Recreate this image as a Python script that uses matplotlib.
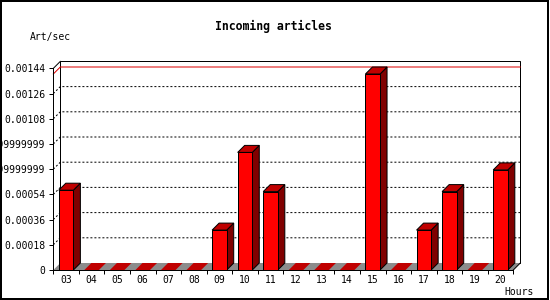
import numpy as np
import matplotlib
matplotlib.use("Agg")
import matplotlib.pyplot as plt
from matplotlib.patches import Polygon, Rectangle

# data: hourly incoming articles per second
hours = ['03', '04', '05', '06', '07', '08', '09', '10', '11', '12',
         '13', '14', '15', '16', '17', '18', '19', '20']
rates = [0.00057, 0, 0, 0, 0, 0, 0.000285, 0.00084, 0.00056, 0,
         0, 0, 0.0014, 0, 0.000285, 0.00056, 0, 0.000715]
yticks = [0, 0.00018, 0.00036, 0.00054, 0.00072, 0.0009, 0.00108, 0.00126, 0.00144]
ylabels = ['0', '0.00018', '0.00036', '0.00054', '0.0007199999999999999',
           '0.0008999999999999999', '0.00108', '0.00126', '0.00144']

W, H = 550, 300
fig = plt.figure(figsize=(W / 100, H / 100), dpi=100)
plt.rcParams['font.family'] = ['DejaVu Sans Mono']

# front plane of the plot in pixels
x0, x1 = 53.3, 513.3
ytop, ybot = 68.4, 270.0
ax = fig.add_axes([x0 / W, (H - ybot) / H, (x1 - x0) / W, (ybot - ytop) / H])
n = len(hours)
ymax = yticks[-1]
ax.set_xlim(0, n)
ax.set_ylim(0, ymax)

# 3d depth: 7 px right, 7 px up
dx = 7 * n / (x1 - x0)
dy = 7 * ymax / (ybot - ytop)

lw = 0.72
# back wall
ax.add_patch(Polygon([(dx, dy), (n + dx, dy), (n + dx, ymax + dy), (dx, ymax + dy)],
                     closed=True, facecolor='white', edgecolor='black', lw=lw,
                     clip_on=False, zorder=1))
# grid lines
for v in yticks[1:-1]:
    ax.plot([0, dx, n + dx], [v, v + dy, v + dy], color='black', lw=lw,
            linestyle=(0, (2, 2)), clip_on=False, zorder=1.2)
# max line
vmax = max(rates)
ax.plot([0, dx, n + dx], [vmax, vmax + dy, vmax + dy], color='#dd0000', lw=lw,
        clip_on=False, zorder=1.3)
# floor
ax.add_patch(Polygon([(0, 0), (n, 0), (n + dx, dy), (dx, dy)], closed=True,
                     facecolor='#8c8c8c', edgecolor='none', clip_on=False, zorder=1.4))

bw = 0.571
for i, v in enumerate(rates):
    l = i + (1 - bw) / 2
    r = l + bw
    top = [(l, v), (r, v), (r + dx, v + dy), (l + dx, v + dy)]
    if v > 0:
        ax.add_patch(Polygon([(r, 0), (r + dx, dy), (r + dx, v + dy), (r, v)], closed=True,
                             facecolor='#800000', edgecolor='black', lw=lw,
                             clip_on=False, zorder=2))
        ax.add_patch(Polygon(top, closed=True, facecolor='#c00000', edgecolor='black',
                             lw=lw, clip_on=False, zorder=2))
        ax.add_patch(Rectangle((l, 0), bw, v, facecolor='#ff0000', edgecolor='black',
                               lw=lw, clip_on=False, zorder=2.1))
    else:
        ax.add_patch(Polygon(top, closed=True, facecolor='#c00000', edgecolor='none',
                             clip_on=False, zorder=2))

# axis slants
ax.plot([0, dx], [ymax, ymax + dy], color='black', lw=lw, clip_on=False, zorder=3)
ax.plot([n, n + dx], [0, dy], color='black', lw=lw, clip_on=False, zorder=3)

for s in ['top', 'right']:
    ax.spines[s].set_visible(False)
for s in ['left', 'bottom']:
    ax.spines[s].set_linewidth(lw)
ax.set_facecolor('none')

ax.set_yticks(yticks)
ax.set_yticklabels(ylabels)
ax.set_xticks(np.arange(n + 1))
ax.set_xticklabels([])
ax.set_xticks(np.arange(n) + 0.5, minor=True)
ax.set_xticklabels(hours, minor=True)
ax.tick_params(axis='both', which='major', direction='out', length=2.9, width=lw,
               labelsize=7, pad=2.9)
ax.tick_params(axis='x', which='minor', length=0, labelsize=7, pad=3.6)

fig.text(273.5 / W, 1 - 26.7 / H, 'Incoming articles', ha='center', va='center',
         fontsize=8.3, fontweight='bold')
fig.text(30 / W, 1 - 36.7 / H, 'Art/sec', ha='left', va='center', fontsize=7)
fig.text(534 / W, 1 - 292 / H, 'Hours', ha='right', va='center', fontsize=7)

# outer frame
fig.add_artist(Rectangle((1 / W, 1.5 / H), 547 / W, 297.5 / H, transform=fig.transFigure,
                         fill=False, edgecolor='black', lw=1.44))

fig.savefig('out.png', dpi=100)
